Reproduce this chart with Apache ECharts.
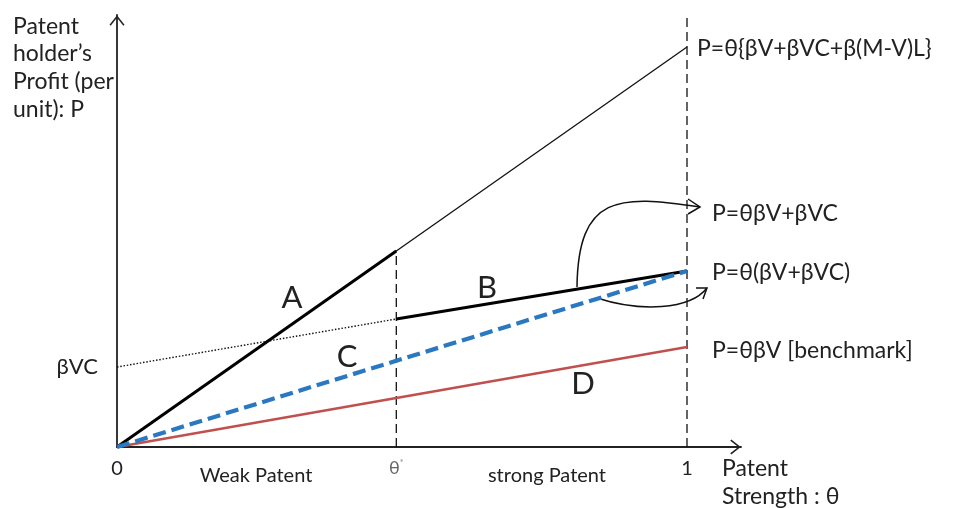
<!DOCTYPE html>
<html>
<head>
<meta charset="utf-8">
<title>Patent strength and profit</title>
<script src="https://cdn.jsdelivr.net/npm/echarts@6/dist/echarts.min.js"></script>
<style>
  html, body {margin: 0; padding: 0; background: #fff;}
  #chart {width: 953px; height: 508px;}
</style>
</head>
<body>
<div id="chart"></div>
<script>
const thetaStar = 0.49;
const betaVC = 0.2;
const xTicks = [0, thetaStar, 1];
const yTicks = [betaVC];

const topLine = [[0, 0], [1, 1]];
const lineA = [[0, 0], [thetaStar, 0.49]];
const lineB = [[thetaStar, 0.32], [1, 0.44]];
const dottedVC = [[0, betaVC], [thetaStar, 0.32]];
const lineC = [[0, 0], [1, 0.44]];
const lineD = [[0, 0], [1, 0.25]];
const guideThetaStar = [[thetaStar, 0], [thetaStar, 0.49]];
const guideOne = [[1, 0], [1, 1.08]];

// curved pointers: 4 bezier points, then 3 arrowhead points
const pointerUp = [[0.807, 0.40], [0.809, 0.63], [0.88, 0.632], [1.0228, 0.60]];
const pointerUpHead = [[1.0018, 0.62], [1.0228, 0.60], [1.0018, 0.5825]];
const pointerDown = [[0.842, 0.3725], [0.9175, 0.3375], [1.005, 0.3425], [1.035, 0.3975]];
const pointerDownHead = [[1.0158, 0.3975], [1.035, 0.3975], [1.0281, 0.37]];

const FONT = 'Lato';
const TXT = '#222';
const arrowPath = 'path://M0,8.8 L7,0 L14,8.8 L12.9,9.8 L7,2.3 L1.1,9.8 Z';

const chart = echarts.init(document.getElementById('chart'));

function lineSeries(name, data, style, z) {
  return {
    name: name,
    type: 'line',
    data: data,
    symbol: 'none',
    silent: true,
    clip: false,
    z: z || 2,
    lineStyle: style
  };
}

function pointer(curve, head) {
  return {
    type: 'custom',
    coordinateSystem: 'cartesian2d',
    silent: true,
    clip: false,
    z: 1,
    data: [[0, 0]],
    renderItem: function (params, api) {
      const p = curve.map(function (d) { return api.coord(d); });
      const h = head.map(function (d) { return api.coord(d); });
      return {
        type: 'group',
        children: [{
          type: 'bezierCurve',
          shape: {
            x1: p[0][0], y1: p[0][1],
            cpx1: p[1][0], cpy1: p[1][1],
            cpx2: p[2][0], cpy2: p[2][1],
            x2: p[3][0], y2: p[3][1]
          },
          style: {stroke: '#111', lineWidth: 1.5, fill: null}
        }, {
          type: 'polyline',
          shape: {points: h},
          style: {stroke: '#111', lineWidth: 1.5, fill: null}
        }]
      };
    }
  };
}

function txt(text, x, y, size, align, color) {
  return {
    type: 'text',
    x: x,
    y: y,
    style: {
      text: text,
      fontFamily: FONT,
      fontSize: size,
      fill: color || TXT,
      align: align || 'left',
      verticalAlign: 'middle'
    }
  };
}

const option = {
  animation: false,
  backgroundColor: '#fff',
  grid: {left: 117, top: 15, width: 624, height: 432},
  xAxis: {
    type: 'value',
    min: 0,
    max: 624 / 570,
    axisLine: {
      lineStyle: {color: '#222', width: 1.8},
      symbol: ['none', arrowPath],
      symbolSize: [15, 11],
      symbolOffset: [0, -5.5]
    },
    axisTick: {show: false},
    splitLine: {show: false},
    axisLabel: {
      customValues: xTicks,
      margin: 12,
      fontFamily: FONT,
      fontSize: 20,
      color: TXT,
      formatter: function (v) {
        if (v === thetaStar) return '{t|θ}{s|*}';
        return String(v);
      },
      rich: {
        t: {fontFamily: FONT, fontSize: 18, color: '#666'},
        s: {fontFamily: FONT, fontSize: 9, color: '#888', verticalAlign: 'top'}
      }
    }
  },
  yAxis: {
    type: 'value',
    min: 0,
    max: 1.08,
    axisLine: {
      lineStyle: {color: '#222', width: 1.8},
      symbol: ['none', arrowPath],
      symbolSize: [15, 11],
      symbolOffset: [0, -5.5]
    },
    axisTick: {show: false},
    splitLine: {show: false},
    axisLabel: {
      customValues: yTicks,
      margin: 19,
      fontFamily: FONT,
      fontSize: 22,
      color: TXT,
      formatter: function () { return 'βVC'; }
    }
  },
  series: [
    lineSeries('dashed θ*', guideThetaStar, {color: '#111', width: 1.3, type: [9, 5]}),
    lineSeries('dashed 1', guideOne, {color: '#111', width: 1.3, type: [9, 5]}),
    lineSeries('P=θ{βV+βVC+β(M-V)L}', topLine, {color: '#111', width: 1.3}),
    lineSeries('βVC', dottedVC, {color: '#111', width: 1.4, type: [1.5, 1.8]}),
    lineSeries('D', lineD, {color: '#c0504d', width: 2.6}, 3),
    lineSeries('A', lineA, {color: '#000', width: 3}, 4),
    lineSeries('B', lineB, {color: '#000', width: 3}, 4),
    lineSeries('C', lineC, {color: '#2a78c0', width: 4.2, type: [13, 6]}, 5),
    pointer(pointerUp, pointerUpHead),
    pointer(pointerDown, pointerDownHead)
  ],
  graphic: [
    txt('Patent', 13, 27, 23),
    txt('holder’s', 13, 54, 23),
    txt('Profit (per', 13, 82, 23),
    txt('unit): P', 13, 110, 23),
    txt('P=θ{βV+βVC+β(M-V)L}', 697, 49, 23),
    txt('P=θβV+βVC', 712, 214, 23),
    txt('P=θ(βV+βVC)', 712, 273, 23),
    txt('P=θβV [benchmark]', 712, 351, 23),
    txt('A', 292, 298, 31, 'center'),
    txt('B', 487, 288, 31, 'center'),
    txt('C', 347, 357, 31, 'center'),
    txt('D', 583, 384, 31, 'center'),
    txt('Weak Patent', 256, 476, 20, 'center'),
    txt('strong Patent', 547, 476, 20, 'center'),
    txt('Patent', 722, 469, 23),
    txt('Strength : θ', 722, 497, 23)
  ]
};

chart.setOption(option);
</script>
</body>
</html>
